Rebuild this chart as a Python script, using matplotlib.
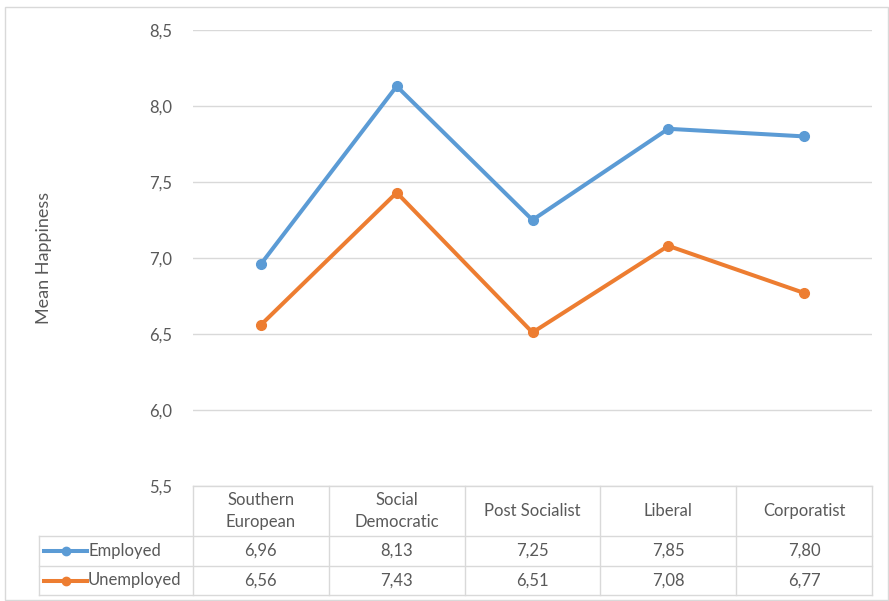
import matplotlib
matplotlib.use("Agg")
import matplotlib.pyplot as plt
from matplotlib.lines import Line2D
from matplotlib.patches import Rectangle

categories = ["Southern\nEuropean", "Social\nDemocratic", "Post Socialist", "Liberal", "Corporatist"]
series_names = ["Employed", "Unemployed"]
employed = [6.96, 8.13, 7.25, 7.85, 7.80]
unemployed = [6.56, 7.43, 6.51, 7.08, 6.77]
yticks = [5.5, 6.0, 6.5, 7.0, 7.5, 8.0, 8.5]
ylabel = "Mean Happiness"

colors = ["#5b9bd5", "#ed7d31"]
text_color = "#595959"
grid_color = "#d9d9d9"
font = ["Lato", "DejaVu Sans"]
plt.rcParams['font.family'] = font

W, H = 889, 601
fig = plt.figure(figsize=(W / 100, H / 100), dpi=100)

def fx(x):
    return x / W

def fy(y):
    return 1 - y / H

# outer frame
fig.patches.append(Rectangle((fx(5), fy(600)), fx(883), fy(7) - fy(600),
                             transform=fig.transFigure, fill=False, edgecolor="#d9d9d9", lw=1))

left, right, top, bottom = 193, 872, 30, 486
ax = fig.add_axes([fx(left), fy(bottom), fx(right - left), fy(top) - fy(bottom)])
n = len(categories)
xs = list(range(n))
ax.set_xlim(-0.5, n - 0.5)
ax.set_ylim(5.5, 8.5)
ax.set_yticks(yticks)
ax.set_yticklabels([f"{v:.1f}".replace(".", ",") for v in yticks], color=text_color, fontsize=12)
ax.tick_params(axis="y", length=0, pad=15)
ax.set_xticks([])
for s in ax.spines.values():
    s.set_visible(False)
ax.grid(axis="y", color=grid_color, lw=1)
ax.set_axisbelow(True)

for vals, c in zip([employed, unemployed], colors):
    ax.plot(xs, vals, color=c, lw=2.9, marker="o", markersize=7, solid_capstyle="round")

fig.text(fx(44), fy(258), ylabel, rotation=90, ha="center", va="center", color=text_color, fontsize=13)

# data table
col_w = (right - left) / n
row_y = [486, 536, 566, 595]
tab_left = 39
line_kw = dict(color=grid_color, lw=1, transform=fig.transFigure)
fig.add_artist(Line2D([fx(left), fx(right)], [fy(row_y[0])] * 2, **line_kw))
for y in row_y[1:]:
    fig.add_artist(Line2D([fx(tab_left), fx(right)], [fy(y)] * 2, **line_kw))
for i in range(n + 1):
    x = left + i * col_w
    fig.add_artist(Line2D([fx(x)] * 2, [fy(row_y[0]), fy(row_y[3])], **line_kw))
fig.add_artist(Line2D([fx(tab_left)] * 2, [fy(row_y[1]), fy(row_y[3])], **line_kw))

for i, cat in enumerate(categories):
    cx = left + (i + 0.5) * col_w
    fig.text(fx(cx), fy((row_y[0] + row_y[1]) / 2), cat, ha="center", va="center",
             color=text_color, fontsize=12, linespacing=1.45)

for r, (name, vals, c) in enumerate(zip(series_names, [employed, unemployed], colors)):
    cy = (row_y[r + 1] + row_y[r + 2]) / 2
    fig.add_artist(Line2D([fx(44), fx(87)], [fy(cy)] * 2, color=c, lw=2.9,
                          transform=fig.transFigure))
    fig.add_artist(Line2D([fx(65.5)], [fy(cy)], color=c, marker="o", markersize=6,
                          transform=fig.transFigure))
    fig.text(fx(88), fy(cy), name, ha="left", va="center", color=text_color, fontsize=12)
    for i, v in enumerate(vals):
        cx = left + (i + 0.5) * col_w
        fig.text(fx(cx), fy(cy), f"{v:.2f}".replace(".", ","), ha="center", va="center",
                 color=text_color, fontsize=12)

fig.savefig("out.png", dpi=100, facecolor="white")
